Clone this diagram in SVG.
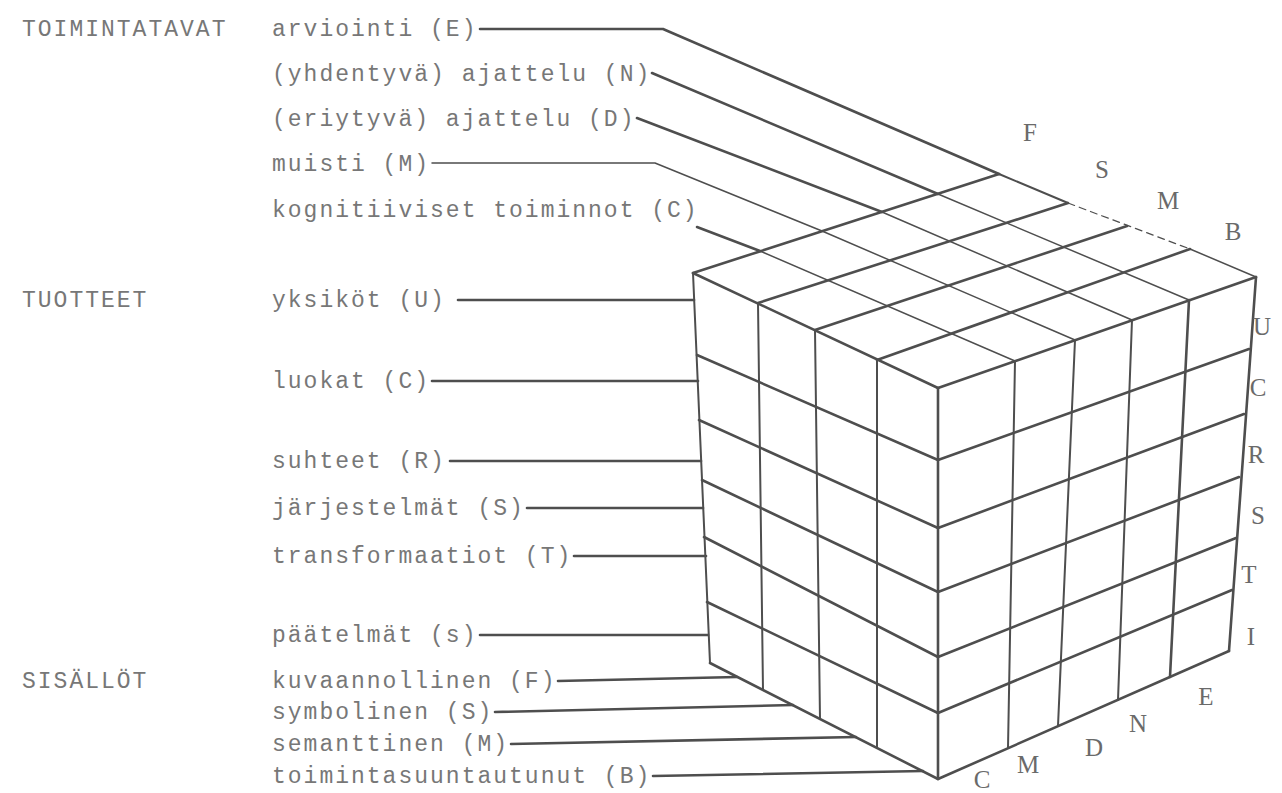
<svg xmlns="http://www.w3.org/2000/svg" width="1282" height="793" viewBox="0 0 1282 793">
<style>
.t{font-family:"Liberation Mono","DejaVu Sans Mono",monospace;font-size:23px;letter-spacing:2px;fill:#777777}
.c{font-family:"Liberation Serif","DejaVu Serif",serif;font-size:25px;fill:#6a6a6a;text-anchor:middle}
.k{stroke:#4e4e4e;fill:none;stroke-linecap:round;stroke-linejoin:round}
.w3{stroke-width:2.6}
.w2{stroke-width:2}
.w1{stroke-width:1.5}
.ds{stroke-dasharray:7 5;stroke-width:1.2}
</style>
<rect width="1282" height="793" fill="#ffffff"/>

<g id="cube">
  <g id="top-face" class="k">
    <polygon points="693,273 938,388 1256,277 999,174" fill="#fff" stroke="none"/>
    <line class="w1" x1="760" y1="251" x2="1015" y2="361"/>
    <line class="w1" x1="822" y1="231" x2="1075" y2="340"/>
    <line class="w1" x1="882" y1="212" x2="1132" y2="320"/>
    <line class="w1" x1="938" y1="194" x2="1189" y2="300"/>
    <line class="w3" x1="758" y1="303" x2="1068" y2="203"/>
    <line class="w3" x1="815" y1="330" x2="1127" y2="226"/>
    <line class="w3" x1="877" y1="360" x2="1190" y2="249"/>
    <line class="w3" x1="693" y1="273" x2="999" y2="174"/>
    <line class="w2" x1="999" y1="174" x2="1068" y2="203"/>
    <line class="ds" x1="1068" y1="203" x2="1190" y2="249"/>
    <line class="w1" x1="1190" y1="249" x2="1256" y2="277"/>
    <line class="w3" x1="693" y1="273" x2="938" y2="388"/>
    <line class="w3" x1="938" y1="388" x2="1256" y2="277"/>
  </g>
  <g id="left-face" class="k">
    <line class="w2" x1="758" y1="303" x2="763" y2="690"/>
    <line class="w2" x1="815" y1="330" x2="820" y2="719"/>
    <line class="w2" x1="877" y1="360" x2="877" y2="748"/>
    <line class="w3" x1="697" y1="355" x2="938" y2="460"/>
    <line class="w3" x1="699" y1="420" x2="938" y2="528"/>
    <line class="w3" x1="702" y1="480" x2="938" y2="592"/>
    <line class="w3" x1="704" y1="537" x2="938" y2="657"/>
    <line class="w3" x1="707" y1="602" x2="938" y2="713"/>
    <line class="w2" x1="693" y1="273" x2="710" y2="663"/>
    <line class="w3" x1="710" y1="663" x2="938" y2="779"/>
  </g>
  <g id="right-face" class="k">
    <line class="w2" x1="1015" y1="361" x2="1008" y2="748"/>
    <line class="w2" x1="1075" y1="340" x2="1058" y2="726"/>
    <line class="w2" x1="1132" y1="320" x2="1118" y2="700"/>
    <line class="w3" x1="1189" y1="300" x2="1170" y2="677"/>
    <line class="w3" x1="938" y1="460" x2="1249" y2="349"/>
    <line class="w3" x1="938" y1="528" x2="1244" y2="414"/>
    <line class="w3" x1="938" y1="592" x2="1239" y2="477"/>
    <line class="w3" x1="938" y1="657" x2="1236" y2="538"/>
    <line class="w3" x1="938" y1="713" x2="1232" y2="590"/>
    <line class="w3" x1="1256" y1="277" x2="1229" y2="651"/>
    <line class="w3" x1="938" y1="779" x2="1229" y2="651"/>
    <line class="w3" x1="938" y1="388" x2="938" y2="779"/>
  </g>
</g>

<g id="connectors" class="k">
  <polyline class="w3" points="480,29 663,29 999,174"/>
  <line class="w3" x1="652" y1="73" x2="938" y2="194"/>
  <line class="w3" x1="637" y1="118" x2="882" y2="212"/>
  <polyline class="w1" points="432,163 655,163 822,231"/>
  <line class="w3" x1="697" y1="227" x2="760" y2="251"/>
  <line class="w3" x1="458" y1="300" x2="694" y2="300"/>
  <line class="w3" x1="432" y1="381" x2="698" y2="381"/>
  <line class="w3" x1="450" y1="461" x2="701" y2="461"/>
  <line class="w3" x1="527" y1="508" x2="703" y2="508"/>
  <line class="w3" x1="574" y1="556" x2="706" y2="556"/>
  <line class="w3" x1="480" y1="635" x2="708" y2="635"/>
  <line class="w3" x1="558" y1="681" x2="737" y2="677"/>
  <line class="w3" x1="495" y1="712" x2="793" y2="705"/>
  <line class="w3" x1="511" y1="744" x2="856" y2="737"/>
  <line class="w3" x1="653" y1="776" x2="923" y2="771"/>
</g>

<g id="operations">
  <text class="t" x="22" y="36">TOIMINTATAVAT</text>
  <g id="op-E"><text class="t" x="272" y="36">arviointi (E)</text></g>
  <g id="op-N"><text class="t" x="272" y="81">(yhdentyvä) ajattelu (N)</text></g>
  <g id="op-D"><text class="t" x="272" y="126">(eriytyvä) ajattelu (D)</text></g>
  <g id="op-M"><text class="t" x="272" y="171">muisti (M)</text></g>
  <g id="op-C"><text class="t" x="272" y="217">kognitiiviset toiminnot (C)</text></g>
</g>
<g id="products">
  <text class="t" x="22" y="307">TUOTTEET</text>
  <g id="pr-U"><text class="t" x="272" y="307">yksiköt (U)</text></g>
  <g id="pr-C"><text class="t" x="272" y="388">luokat (C)</text></g>
  <g id="pr-R"><text class="t" x="272" y="468">suhteet (R)</text></g>
  <g id="pr-S"><text class="t" x="272" y="515">järjestelmät (S)</text></g>
  <g id="pr-T"><text class="t" x="272" y="563">transformaatiot (T)</text></g>
  <g id="pr-I"><text class="t" x="272" y="642">päätelmät (s)</text></g>
</g>
<g id="contents">
  <text class="t" x="22" y="688">SISÄLLÖT</text>
  <g id="co-F"><text class="t" x="272" y="688">kuvaannollinen (F)</text></g>
  <g id="co-S"><text class="t" x="272" y="719">symbolinen (S)</text></g>
  <g id="co-M"><text class="t" x="272" y="751">semanttinen (M)</text></g>
  <g id="co-B"><text class="t" x="272" y="783">toimintasuuntautunut (B)</text></g>
</g>

<g id="axis-letters">
  <text class="c" x="1030" y="141">F</text>
  <text class="c" x="1102" y="178">S</text>
  <text class="c" x="1168" y="209">M</text>
  <text class="c" x="1233" y="240">B</text>
  <text class="c" x="1262" y="335">U</text>
  <text class="c" x="1258" y="396">C</text>
  <text class="c" x="1256" y="463">R</text>
  <text class="c" x="1258" y="524">S</text>
  <text class="c" x="1249" y="583">T</text>
  <text class="c" x="1251" y="645">I</text>
  <text class="c" x="982" y="788">C</text>
  <text class="c" x="1028" y="773">M</text>
  <text class="c" x="1094" y="756">D</text>
  <text class="c" x="1138" y="732">N</text>
  <text class="c" x="1206" y="705">E</text>
</g>
</svg>
